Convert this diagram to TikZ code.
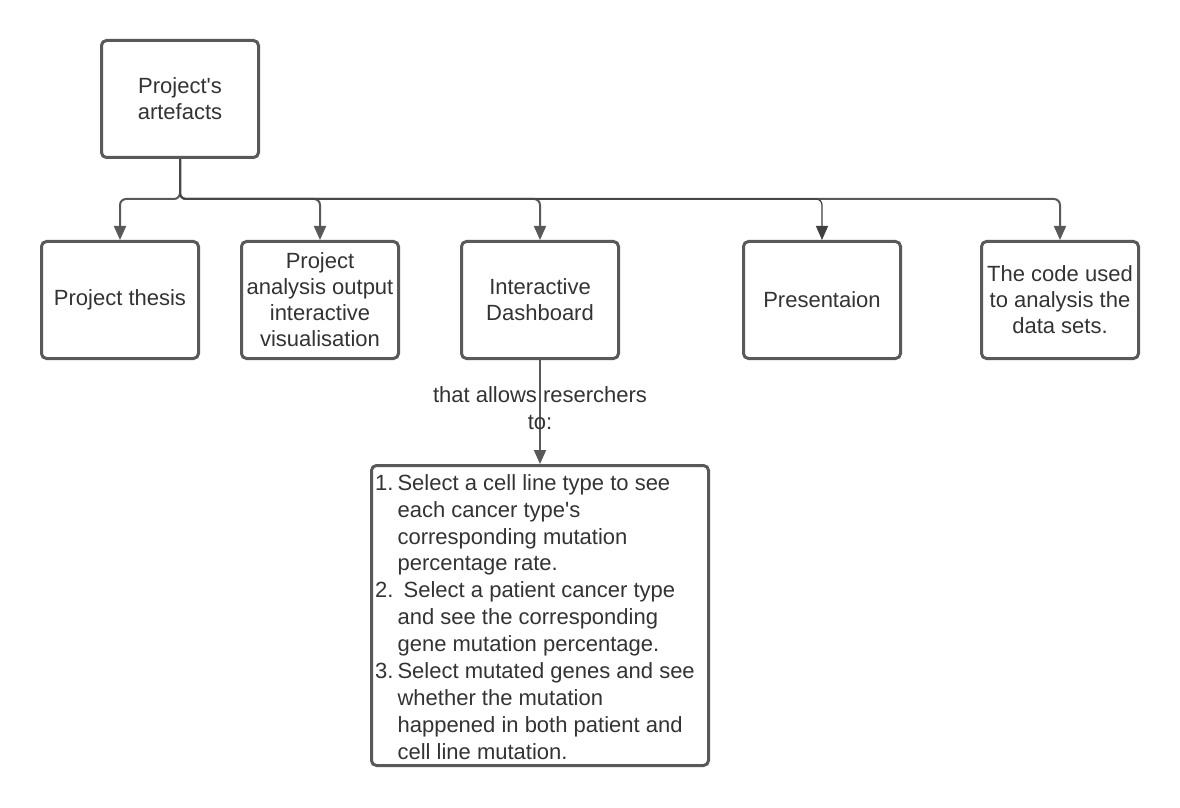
\documentclass[tikz,border=0pt]{standalone}
\usepackage{fontspec}
\setmainfont{Liberation Sans}[Ligatures=TeXOff]
\usetikzlibrary{arrows.meta}
\begin{document}
\begin{tikzpicture}[x=0.5pt,y=-0.5pt,
  box/.style={draw=frame,line width=1.5pt,rounded corners=2.5pt,minimum width=78.5pt,
    minimum height=58.5pt,align=center,text=ink,inner sep=1pt,
    font=\fontsize{11}{13}\selectfont},
  link/.style={draw=frame,line width=1pt,rounded corners=3pt,
    -{Triangle[width=6pt,length=7pt]}},
  note/.style={text=ink,align=center,font=\fontsize{11}{13.5}\selectfont,inner sep=0pt}]
  \colorlet{frame}{black!65}
  \colorlet{ink}{black!80}

  \useasboundingbox (0,0) rectangle (1180,808);

  \node[box] (root) at (180,99) {Project's\\artefacts};

  \node[box] (thesis)   at (120,300)  {Project thesis};
  \node[box] (analysis) at (320,300)  {Project\\analysis output\\interactive\\visualisation};
  \node[box] (dash)     at (540,300)  {Interactive\\Dashboard};
  \node[box] (talk)     at (822,300)  {Presentaion};
  \node[box] (code)     at (1060,300) {The code used\\to analysis the\\data sets.};

  \node[box,minimum width=168.5pt,minimum height=150pt,inner sep=0pt,
    font=\fontsize{11}{12.2}\selectfont] (list) at (540,615.5) {%
    \def\arraystretch{1.105}%
    \raisebox{-2pt}[\height][\depth]{%
    \begin{tabular}{@{}l@{\hspace{2pt}}l@{\hspace{5pt}}}
      1. & Select a cell line type to see\\
         & each cancer type's\\
         & corresponding mutation\\
         & percentage rate.\\
      2. & \ Select a patient cancer type\\
         & and see the corresponding\\
         & gene mutation percentage.\\
      3. & Select mutated genes and see\\
         & whether the mutation\\
         & happened in both patient and\\
         & cell line mutation.
    \end{tabular}}};

  % tree from the root
  \foreach \kid in {thesis,analysis,dash,code}
    \draw[link] (root.south) -- ++(0,40) -| (\kid.north);
  \draw[link,line width=0.6pt,draw=black!75] (root.south) -- ++(0,40) -| (talk.north);

  \draw[link] (dash.south) -- node[note,yshift=2pt] {that allows reserchers\\to:} (list.north);
\end{tikzpicture}
\end{document}
